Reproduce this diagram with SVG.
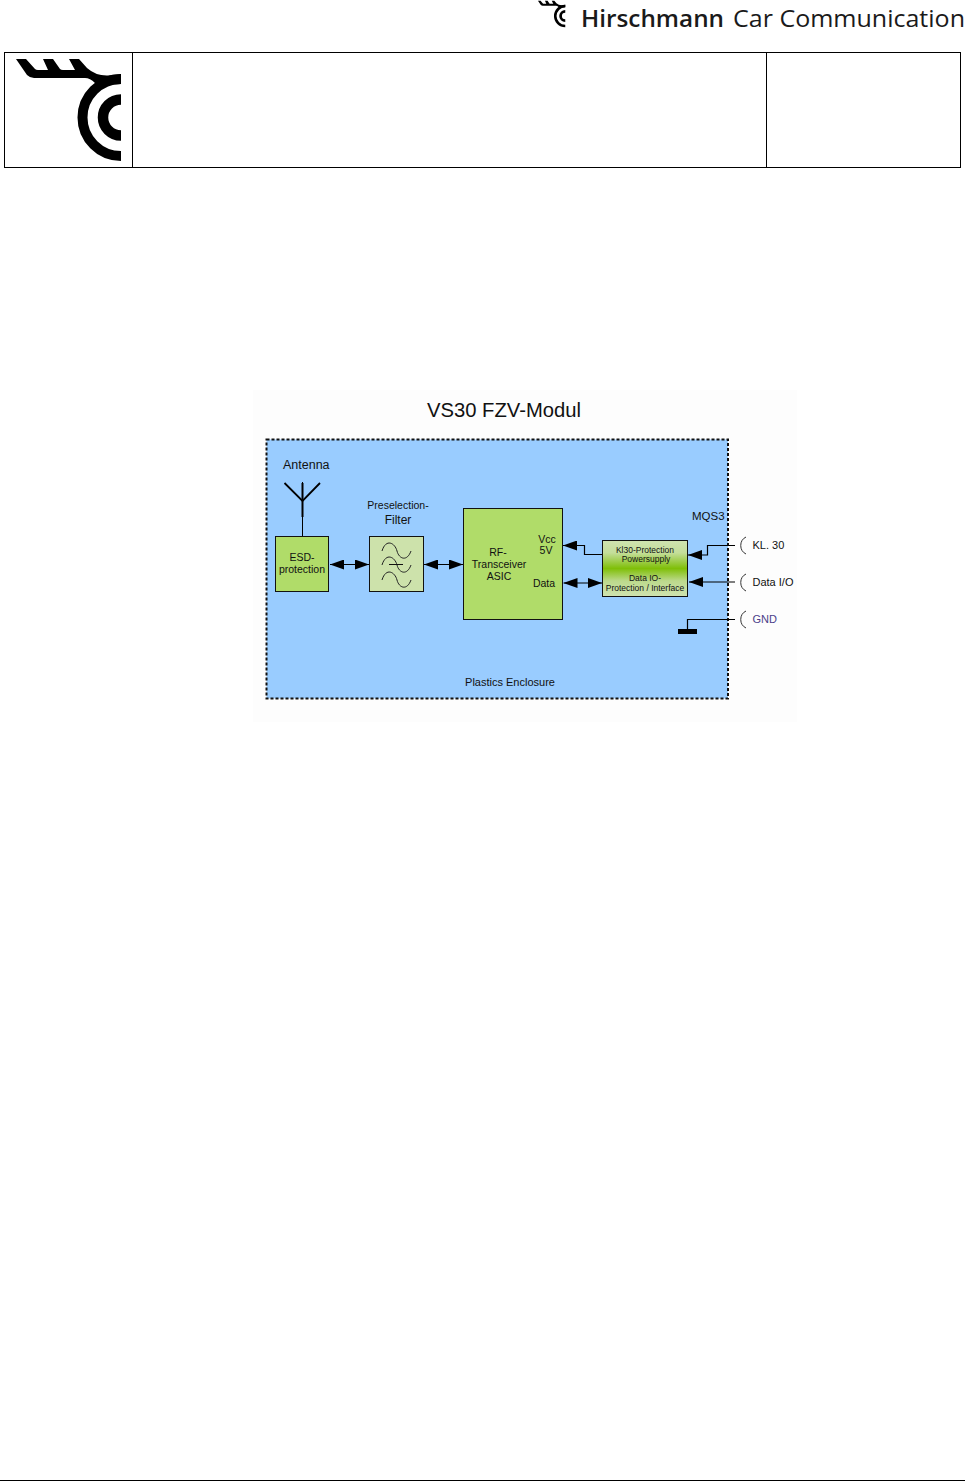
<svg xmlns="http://www.w3.org/2000/svg" xmlns:xlink="http://www.w3.org/1999/xlink" width="965" height="1481" viewBox="0 0 965 1481">
<style>
text{font-family:"Liberation Sans",Arial,sans-serif;fill:#111}
.box{stroke:#111;stroke-width:1}
.ln{fill:none;stroke:#000;stroke-width:1.2}
.arc{fill:none;stroke:#333;stroke-width:1}
.m{text-anchor:middle}
.wave{fill:none;stroke:#222;stroke-width:1}
.brand{font-family:"Open Sans",sans-serif;font-size:24px;fill:#1a1a1a}
</style>
<defs>
<linearGradient id="g" x1="0" y1="0" x2="0" y2="1">
<stop offset="0" stop-color="#cfe3b0"/><stop offset=".22" stop-color="#c4de9a"/><stop offset=".5" stop-color="#7fbf08"/><stop offset=".72" stop-color="#bcd98c"/><stop offset="1" stop-color="#cfe3b0"/>
</linearGradient>
<marker id="ah" markerUnits="userSpaceOnUse" markerWidth="14" markerHeight="10" refX="14" refY="5" orient="auto-start-reverse"><path d="M0 0L14 5L0 10Z" fill="#000"/></marker>
<g id="logo">
<path d="M16 59H26L35 69Q36 70 38 70H48L43 59H53L60 69Q61 70 63 70H75L69 59H79L87 68Q96 76 108 75.500L121 74V84L108 85Q102 85 95 83Q90 78 85 78H34Q30 78 27 75Z" fill="#000"/>
<path d="M121 79A38.500 38.500 0 0 0 121 156" fill="none" stroke="#000" stroke-width="10"/>
<path d="M121 99.500A18 18 0 0 0 121 135.500" fill="none" stroke="#000" stroke-width="10.500"/>
</g>
</defs>
<rect width="965" height="1481" fill="#fff"/>
<g id="header">
<use xlink:href="#logo" href="#logo" transform="translate(533.800 -14.500) scale(.26)"/>
<text class="brand" x="581" y="27" font-weight="600" textLength="143" lengthAdjust="spacingAndGlyphs">Hirschmann</text>
<text class="brand" x="733" y="27" textLength="232" lengthAdjust="spacingAndGlyphs">Car Communication</text>
</g>
<g id="title-block">
<rect x="4.500" y="52.500" width="956" height="115" fill="none" stroke="#000"/>
<path d="M132.500 52.500V167.500M766.500 52.500V167.500" stroke="#000" fill="none"/>
<use xlink:href="#logo" href="#logo"/>
</g>
<rect x="253" y="390" width="544" height="332" fill="#fdfdfd"/>
<text x="427" y="417" font-size="20" textLength="154" lengthAdjust="spacingAndGlyphs">VS30 FZV-Modul</text>
<g id="enclosure">
<rect x="266.500" y="439.500" width="461.500" height="259" fill="#99ccff" stroke="#111" stroke-width="2" stroke-dasharray="3 2"/>
<text class="m" x="510" y="686" font-size="11">Plastics Enclosure</text>
<text x="692" y="520" font-size="11.500">MQS3</text>
</g>
<g id="connectors">
<path class="ln" d="M330 564.500H369" marker-start="url(#ah)" marker-end="url(#ah)"/>
<path class="ln" d="M424 564.500H463" marker-start="url(#ah)" marker-end="url(#ah)"/>
<path class="ln" d="M602 554.500H584.500V545.500H563" marker-end="url(#ah)"/>
<path class="ln" d="M563.500 583H602" marker-start="url(#ah)" marker-end="url(#ah)"/>
<path class="ln" d="M735 545.500H707.500V555H688" marker-end="url(#ah)"/>
<path class="ln" d="M735 582H689" marker-end="url(#ah)"/>
<path class="ln" d="M735 619.500H687.500V630"/>
<path d="M302.500 482V536" fill="none" stroke="#000" stroke-width="1"/>
</g>
<g id="antenna">
<text x="283" y="469" font-size="12.500">Antenna</text>
<path d="M302.500 483V517" fill="none" stroke="#000" stroke-width="2"/>
<path d="M284.500 483L302.500 501L320 483" fill="none" stroke="#000" stroke-width="1.800"/>
</g>
<g id="esd">
<rect class="box" x="275.500" y="536.500" width="53" height="55" fill="#b0dc69"/>
<text class="m" x="302" y="561" font-size="10.500">ESD-</text>
<text class="m" x="302" y="573" font-size="10.500">protection</text>
</g>
<g id="filter">
<text class="m" x="398" y="509" font-size="10.500">Preselection-</text>
<text class="m" x="398" y="524" font-size="12">Filter</text>
<rect class="box" x="369.500" y="536.500" width="54" height="55" fill="#cde2ab"/>
<path class="wave" d="M382 551C386 538 395 543 397 551S407 562 411 551"/>
<path class="wave" d="M382 565C386 552 395 557 397 565S407 576 411 565"/>
<path class="wave" d="M382 580C386 567 395 572 397 580S407 591 411 580"/>
<path d="M389 564.500H403" stroke="#111" fill="none"/>
</g>
<g id="transceiver">
<rect class="box" x="463.500" y="508.500" width="99" height="111" fill="#b0dc69"/>
<text class="m" x="498" y="556" font-size="10.500">RF-</text>
<text class="m" x="499" y="568" font-size="10.500">Transceiver</text>
<text class="m" x="499" y="580" font-size="10.500">ASIC</text>
<text class="m" x="547" y="543" font-size="10.500">Vcc</text>
<text class="m" x="546" y="554" font-size="10.500">5V</text>
<text class="m" x="544" y="587" font-size="10.500">Data</text>
</g>
<g id="protection">
<rect class="box" x="602.500" y="540.500" width="85" height="56" fill="url(#g)"/>
<text class="m" x="645" y="553" font-size="8.500">Kl30-Protection</text>
<text class="m" x="646" y="562" font-size="8.500">Powersupply</text>
<text class="m" x="645" y="581" font-size="8.500">Data IO-</text>
<text class="m" x="645" y="591" font-size="8.500">Protection / Interface</text>
</g>
<g id="pin-kl30">
<path class="arc" d="M746 537A9.500 9.500 0 0 0 746 554"/>
<text x="752.500" y="549" font-size="11">KL. 30</text>
</g>
<g id="pin-data">
<path class="arc" d="M746 574A9.500 9.500 0 0 0 746 591"/>
<text x="752.500" y="586" font-size="11">Data I/O</text>
</g>
<g id="pin-gnd">
<path class="arc" d="M746 611A9.500 9.500 0 0 0 746 628"/>
<text x="752.500" y="623" font-size="11" style="fill:#4b3f8a">GND</text>
<rect x="678" y="629" width="19" height="5" fill="#000"/>
</g>
<path d="M0 1480.500H965" stroke="#000" fill="none"/>
</svg>
